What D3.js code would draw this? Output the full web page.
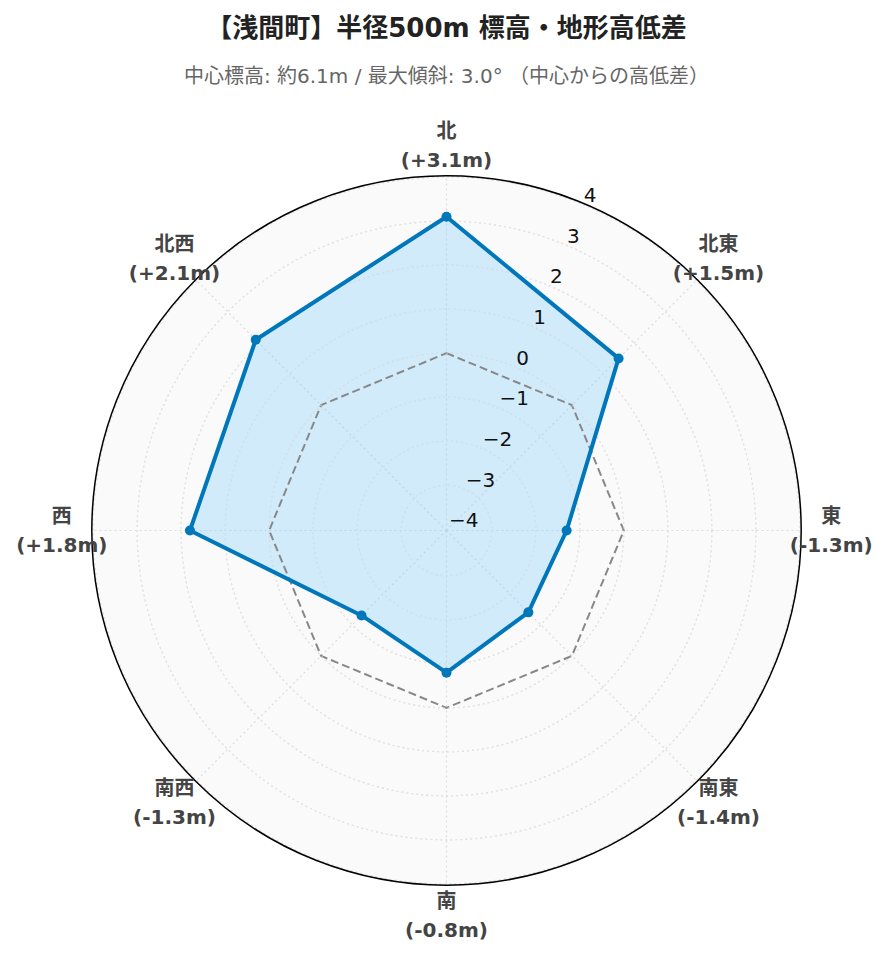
<!DOCTYPE html>
<html><head><meta charset="utf-8">
<script src="https://cdn.jsdelivr.net/npm/d3@7/dist/d3.min.js"></script>
<style>
html,body{margin:0;padding:0;background:#fff;}
svg{display:block;}
</style></head>
<body><div id="chart"></div>
<script>
const directions = ["北","北東","東","南東","南","南西","西","北西"];
const angles = [0,45,90,135,180,225,270,315];
const elevDiff = [3.1,1.5,-1.3,-1.4,-0.8,-1.3,1.8,2.1];
const diffLabels = ["+3.1m","+1.5m","-1.3m","-1.4m","-0.8m","-1.3m","+1.8m","+2.1m"];
const zeroRef = [0,0,0,0,0,0,0,0];
const radialTicks = [-4,-3,-2,-1,0,1,2,3,4];
const radialRange = [-4.03, 4.03];
const titleText = "【浅間町】半径500m 標高・地形高低差";
const subtitleText = "中心標高: 約6.1m / 最大傾斜: 3.0° （中心からの高低差）";

const W = 889, H = 962;
const cx = 446.5, cy = 530.5, R = 354.7;
const FONT = "Verdana, 'DejaVu Sans', 'Noto Sans CJK JP', sans-serif";

const svg = d3.select("#chart").append("svg").attr("width", W).attr("height", H);

svg.append("text").attr("x", cx).attr("y", 28).attr("text-anchor","middle").attr("dominant-baseline","central")
  .attr("font-family", FONT).attr("font-weight","bold").attr("font-size", 26).attr("fill","#222")
  .text(titleText);
svg.append("text").attr("x", cx).attr("y", 76).attr("text-anchor","middle").attr("dominant-baseline","central")
  .attr("font-family", FONT).attr("font-size", 20).attr("fill","#666")
  .text(subtitleText);

const r = d3.scaleLinear().domain(radialRange).range([0, R]);
const a = d3.scaleLinear().domain([0,360]).range([0, 2*Math.PI]);

const g = svg.append("g").attr("transform", `translate(${cx},${cy})`);

g.append("circle").attr("r", R).attr("fill", "#fafafa");

const gridTicks = radialTicks.filter(t => r(t) > 2 && r(t) < R - 0.5);

g.selectAll("circle.grid").data(gridTicks).join("circle")
  .attr("class","grid").attr("r", d => r(d)).attr("fill","none")
  .attr("stroke","#dcdcdc").attr("stroke-width",1.2).attr("stroke-dasharray","2,3");

g.selectAll("line.agrid").data(angles).join("line")
  .attr("class","agrid")
  .attr("x1",0).attr("y1",0)
  .attr("x2", d => R*Math.sin(a(d))).attr("y2", d => -R*Math.cos(a(d)))
  .attr("stroke","#dcdcdc").attr("stroke-width",1.2).attr("stroke-dasharray","2,3");

const lineGen = d3.lineRadial()
  .angle((d,i) => a(angles[i]))
  .radius(d => r(d))
  .curve(d3.curveLinearClosed);

g.append("path").datum(elevDiff).attr("d", lineGen)
  .attr("fill","#87cefa").attr("fill-opacity",0.35).attr("stroke","none");

g.append("path").datum(zeroRef).attr("d", lineGen)
  .attr("fill","none").attr("stroke","#888").attr("stroke-width",2).attr("stroke-dasharray","8,4");

g.selectAll("circle.grid2").data(gridTicks).join("circle")
  .attr("class","grid2").attr("r", d => r(d)).attr("fill","none")
  .attr("stroke","#e6e6e6").attr("stroke-opacity",0.6).attr("stroke-width",1.2).attr("stroke-dasharray","2,3");

g.append("path").datum(elevDiff).attr("d", lineGen)
  .attr("fill","none").attr("stroke","#0077bb").attr("stroke-width",4).attr("stroke-linejoin","round");

g.selectAll("circle.pt").data(elevDiff).join("circle")
  .attr("class","pt")
  .attr("cx", (d,i) => r(d)*Math.sin(a(angles[i])))
  .attr("cy", (d,i) => -r(d)*Math.cos(a(angles[i])))
  .attr("r", 5).attr("fill","#0077bb");

g.append("circle").attr("r", R).attr("fill","none").attr("stroke","#000").attr("stroke-width",1.5);

const ta = a(22.5);
g.selectAll("text.rt").data(radialTicks).join("text")
  .attr("class","rt")
  .attr("x", d => r(d)*Math.sin(ta) + 2)
  .attr("y", d => -r(d)*Math.cos(ta) - 9)
  .attr("dominant-baseline","central")
  .attr("font-family", FONT).attr("font-size", 20).attr("fill","#111")
  .text(d => d < 0 ? "\u2212" + Math.abs(d) : String(d));

const lab = g.selectAll("g.al").data(directions).join("g").attr("class","al")
  .attr("transform", (d,i) => {
    const rr = R + 30;
    return `translate(${rr*Math.sin(a(angles[i]))},${-rr*Math.cos(a(angles[i]))})`;
  });
lab.append("text").attr("y", -14.5).attr("text-anchor","middle").attr("dominant-baseline","central")
  .attr("font-family", FONT).attr("font-weight","bold").attr("font-size", 20).attr("fill","#444")
  .text(d => d);
lab.append("text").attr("y", 14.5).attr("text-anchor","middle").attr("dominant-baseline","central")
  .attr("font-family", FONT).attr("font-weight","bold").attr("font-size", 20).attr("fill","#444")
  .text((d,i) => "(" + diffLabels[i] + ")");
</script></body></html>
